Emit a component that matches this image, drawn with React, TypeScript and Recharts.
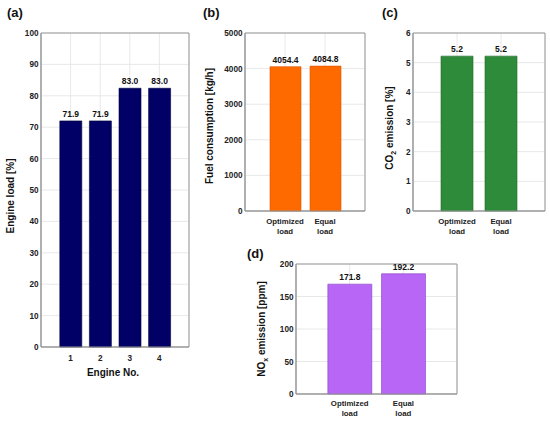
import React from "react";
import { BarChart, Bar, XAxis, YAxis, CartesianGrid, LabelList, ReferenceArea } from "recharts";

// Panel (a)
const engineNos = [1, 2, 3, 4];
const engineLoad = [72.0, 72.0, 82.4, 82.4];
const engineLoadLabels = ["71.9", "71.9", "83.0", "83.0"];
const engineLoadTicks = [0, 10, 20, 30, 40, 50, 60, 70, 80, 90, 100];

// Panels (b)-(d)
const cases = ["Optimized\nload", "Equal\nload"];
const fuel = [4054.4, 4070];
const fuelLabels = ["4054.4", "4084.8"];
const fuelTicks = [0, 1000, 2000, 3000, 4000, 5000];
const co2 = [5.22, 5.22];
const co2Labels = ["5.2", "5.2"];
const co2Ticks = [0, 1, 2, 3, 4, 5, 6];
const nox = [169, 185];
const noxLabels = ["171.8", "192.2"];
const noxTicks = [0, 50, 100, 150, 200];

const FONT = "'Liberation Sans', Arial, Helvetica, sans-serif";
const AXIS = "#999999";
const GRID = "#e2e2e2";

const aData = engineNos.map((n, i) => ({ x: n, v: engineLoad[i], label: engineLoadLabels[i] }));
const mk = (vals: number[], labels: string[]) =>
  cases.map((c, i) => ({ x: i + 1, name: c, v: vals[i], label: labels[i] }));
const bData = mk(fuel, fuelLabels);
const cData = mk(co2, co2Labels);
const dData = mk(nox, noxLabels);

const YTick = (props: any) => {
  const { x, y, payload } = props;
  return (
    <text x={x - 2.5} y={y} dy={3} textAnchor="end" fontSize={8.2} fontWeight="bold" fontFamily={FONT} fill="#222">
      {payload.value}
    </text>
  );
};

const NumXTick = (props: any) => {
  const { x, y, payload } = props;
  return (
    <text x={x} y={y + 14} textAnchor="middle" fontSize={8.2} fontWeight="bold" fontFamily={FONT} fill="#222">
      {payload.value}
    </text>
  );
};

const makeCatTick = (first: number) => (props: any) => {
  const { x, y, payload } = props;
  const idx = Math.round(payload.value) - 1;
  const lines = (cases[idx] || "").split("\n");
  return (
    <text x={x} y={y + first} textAnchor="middle" fontSize={7.8} fontWeight="bold" fontFamily={FONT} fill="#222">
      {lines.map((l, i) => (
        <tspan key={i} x={x} dy={i === 0 ? 0 : 10}>
          {l}
        </tspan>
      ))}
    </text>
  );
};

const labelProps = {
  dataKey: "label",
  position: "top" as const,
  offset: 4,
  fontSize: 8.5,
  fontWeight: "bold",
  fontFamily: FONT,
  fill: "#111",
};

type PanelProps = {
  left: number;
  top: number;
  width: number;
  height: number;
  margin: { top: number; right: number; left: number; bottom: number };
  yWidth: number;
  xHeight: number;
  data: any[];
  xDomain: [number, number];
  xTicks: number[];
  yTicks: number[];
  color: string;
  stroke: string;
  barSize: number;
  tick: any;
};

const Panel = (p: PanelProps) => {
  const yMax = p.yTicks[p.yTicks.length - 1];
  return (
    <div style={{ position: "absolute", left: p.left, top: p.top }}>
      <BarChart width={p.width} height={p.height} data={p.data} margin={p.margin} barSize={p.barSize}>
        <CartesianGrid stroke={GRID} strokeWidth={0.8} />
        <XAxis
          dataKey="x"
          type="number"
          domain={p.xDomain}
          ticks={p.xTicks}
          interval={0}
          height={p.xHeight}
          tickSize={0}
          tickMargin={0}
          tickLine={false}
          axisLine={{ stroke: AXIS }}
          tick={p.tick}
          allowDataOverflow
        />
        <YAxis
          type="number"
          domain={[0, yMax]}
          ticks={p.yTicks}
          interval={0}
          width={p.yWidth}
          tickSize={0}
          tickMargin={0}
          tickLine={false}
          axisLine={{ stroke: AXIS }}
          tick={<YTick />}
        />
        <Bar dataKey="v" fill={p.color} stroke={p.stroke} strokeWidth={0.6} isAnimationActive={false}>
          <LabelList {...labelProps} />
        </Bar>
        <ReferenceArea
          x1={p.xDomain[0]}
          x2={p.xDomain[1]}
          y1={0}
          y2={yMax}
          fill="none"
          fillOpacity={0}
          stroke={AXIS}
          strokeWidth={1}
          ifOverflow="visible"
        />
      </BarChart>
    </div>
  );
};

const titleStyle: React.CSSProperties = {
  position: "absolute",
  fontFamily: FONT,
  fontWeight: "bold",
  fontSize: 10,
  color: "#111",
  whiteSpace: "nowrap",
};

const RotTitle = ({ cx, cy, children }: { cx: number; cy: number; children: React.ReactNode }) => (
  <div
    style={{
      ...titleStyle,
      left: cx,
      top: cy,
      transform: "translate(-50%, -50%) rotate(-90deg)",
      lineHeight: "12px",
    }}
  >
    {children}
  </div>
);

const PanelTag = ({ x, y, text }: { x: number; y: number; text: string }) => (
  <div style={{ ...titleStyle, left: x, top: y, fontSize: 13, lineHeight: "15px" }}>{text}</div>
);

export default function App() {
  return (
    <div style={{ position: "absolute", left: 0, top: 0, width: 550, height: 422, background: "#fff", overflow: "hidden" }}>
      {/* (a) */}
      <Panel
        left={0}
        top={0}
        width={200}
        height={400}
        margin={{ top: 33, right: 11, left: 0, bottom: 0 }}
        yWidth={41}
        xHeight={53}
        data={aData}
        xDomain={[0, 5]}
        xTicks={engineNos}
        yTicks={engineLoadTicks}
        color="#000066"
        stroke="#00003a"
        barSize={22}
        tick={<NumXTick />}
      />
      {/* (b) */}
      <Panel
        left={200}
        top={0}
        width={170}
        height={240}
        margin={{ top: 33, right: 5, left: 0, bottom: 0 }}
        yWidth={45}
        xHeight={29}
        data={bData}
        xDomain={[0, 3]}
        xTicks={[1, 2]}
        yTicks={fuelTicks}
        color="#ff6a00"
        stroke="#d95500"
        barSize={31}
        tick={makeCatTick(12.5)}
      />
      {/* (c) */}
      <Panel
        left={370}
        top={0}
        width={180}
        height={240}
        margin={{ top: 33, right: 5, left: 0, bottom: 0 }}
        yWidth={43}
        xHeight={29}
        data={cData}
        xDomain={[0, 3]}
        xTicks={[1, 2]}
        yTicks={co2Ticks}
        color="#2e8b3a"
        stroke="#1f6a2a"
        barSize={32}
        tick={makeCatTick(12.5)}
      />
      {/* (d) */}
      <Panel
        left={240}
        top={240}
        width={220}
        height={182}
        margin={{ top: 24, right: 3, left: 0, bottom: 0 }}
        yWidth={56}
        xHeight={28}
        data={dData}
        xDomain={[0, 3]}
        xTicks={[1, 2]}
        yTicks={noxTicks}
        color="#b766f5"
        stroke="#8a3fc8"
        barSize={44}
        tick={makeCatTick(12)}
      />

      {/* panel tags */}
      <PanelTag x={7} y={5} text="(a)" />
      <PanelTag x={203} y={5} text="(b)" />
      <PanelTag x={382} y={5} text="(c)" />
      <PanelTag x={247} y={246} text="(d)" />

      {/* axis titles */}
      <RotTitle cx={11} cy={196}>Engine load [%]</RotTitle>
      <div style={{ ...titleStyle, left: 113, top: 372, transform: "translate(-50%, -50%)" }}>Engine No.</div>
      <RotTitle cx={210} cy={126}>Fuel consumption [kg/h]</RotTitle>
      <RotTitle cx={390} cy={128}>
        CO<sub style={{ fontSize: 7, verticalAlign: "-3px", lineHeight: 0 }}>2</sub> emission [%]
      </RotTitle>
      <RotTitle cx={262} cy={329}>
        NO<sub style={{ fontSize: 7, verticalAlign: "-3px", lineHeight: 0 }}>x</sub> emission [ppm]
      </RotTitle>
    </div>
  );
}
